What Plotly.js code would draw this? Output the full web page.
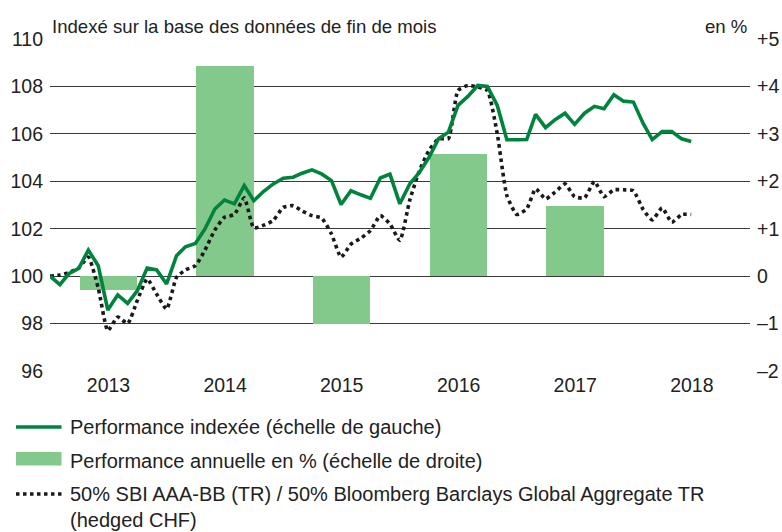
<!DOCTYPE html>
<html>
<head>
<meta charset="utf-8">
<script src="https://cdn.plot.ly/plotly-3.0.1.min.js"></script>
<style>
html,body{margin:0;padding:0;background:#fff;}
#chart{width:782px;height:532px;}
</style>
</head>
<body>
<div id="chart"></div>
<script>
// ---- Data ----
const months = [
 "2012-12",
 "2013-01","2013-02","2013-03","2013-04","2013-05","2013-06","2013-07","2013-08","2013-09","2013-10","2013-11","2013-12",
 "2014-01","2014-02","2014-03","2014-04","2014-05","2014-06","2014-07","2014-08","2014-09","2014-10","2014-11","2014-12",
 "2015-01","2015-02","2015-03","2015-04","2015-05","2015-06","2015-07","2015-08","2015-09","2015-10","2015-11","2015-12",
 "2016-01","2016-02","2016-03","2016-04","2016-05","2016-06","2016-07","2016-08","2016-09","2016-10","2016-11","2016-12",
 "2017-01","2017-02","2017-03","2017-04","2017-05","2017-06","2017-07","2017-08","2017-09","2017-10","2017-11","2017-12",
 "2018-01","2018-02","2018-03","2018-04","2018-05","2018-06"
];
const performanceIndexee = [
 100.0,
 99.64, 100.1, 100.33, 101.1, 100.44, 98.57, 99.21, 98.85, 99.38, 100.34, 100.26, 99.67,
 100.86, 101.24, 101.38, 101.99, 102.83, 103.21, 103.05, 103.82, 103.18, 103.58, 103.89, 104.13,
 104.17, 104.34, 104.48, 104.31, 104.03, 103.02, 103.6, 103.43, 103.28, 104.14, 104.3, 103.05,
 103.89, 104.35, 105.0, 105.79, 106.07, 107.2, 107.58, 108.04, 108.0, 107.2, 105.75, 105.75,
 105.76, 106.82, 106.26, 106.6, 106.87, 106.4, 106.87, 107.16, 107.06, 107.65, 107.38, 107.34,
 106.43, 105.76, 106.1, 106.1, 105.79, 105.68
];
const benchmark = [
 100.0,
 100.05, 100.15, 100.35, 100.8, 99.5, 97.7, 98.28, 98.0, 98.96, 99.88, 99.24, 98.61,
 99.95, 100.26, 100.44, 101.1, 101.95, 102.48, 102.6, 103.3, 102.03, 102.15, 102.35, 102.9,
 102.97, 102.75, 102.55, 102.45, 101.78, 100.8, 101.35, 101.6, 101.92, 102.55, 102.2, 101.5,
 103.2, 104.4, 105.3, 105.79, 105.8, 107.83, 108.04, 107.97, 107.83, 106.0, 103.4, 102.6,
 102.83, 103.68, 103.26, 103.54, 103.89, 103.35, 103.3, 103.99, 103.35, 103.64, 103.64, 103.6,
 102.8, 102.37, 102.88, 102.27, 102.6, 102.6
];
const years = [2013, 2014, 2015, 2016, 2017];
const performanceAnnuelle = [-0.3, 4.44, -1.0, 2.58, 1.47];

const xTickYears = [2013, 2014, 2015, 2016, 2017, 2018];
const leftTicks = [96, 98, 100, 102, 104, 106, 108, 110];
const rightTickVals = [-2, -1, 0, 1, 2, 3, 4, 5];
const rightTickText = ["\u20132", "\u20131", "0", "+1", "+2", "+3", "+4", "+5"];

const titleLeft = "Indexé sur la base des données de fin de mois";
const titleRight = "en %";
const legendLabels = [
 "Performance indexée (échelle de gauche)",
 "Performance annuelle en % (échelle de droite)",
 "50% SBI AAA-BB (TR) / 50% Bloomberg Barclays Global Aggregate TR",
 "(hedged CHF)"
];

// ---- Helpers ----
function monthEnd(s) {
  const [y, m] = s.split("-").map(Number);
  const d = new Date(Date.UTC(y, m, 0));
  return d.toISOString().slice(0, 10);
}
const xDates = months.map(monthEnd);
const midYear = y => y + "-07-02";

const GREEN = "#00843D";
const BARGREEN = "#84C98C";
const TXT = "#222222";
const FONT = "Liberation Sans, Arial, Helvetica, sans-serif";

// layout geometry
const W = 782, H = 532;
const M = {l: 50, r: 32, t: 39, b: 161};
const PW = W - M.l - M.r, PH = H - M.t - M.b;
const px2x = px => (px - M.l) / PW;
const px2y = py => (H - M.b - py) / PH;

const barWidthMs = 0.493 * 365.25 * 86400000;

const traces = [
  {
    type: "bar", x: years.map(midYear), y: performanceAnnuelle, yaxis: "y",
    width: years.map(() => barWidthMs),
    marker: {color: BARGREEN, line: {width: 0}},
    showlegend: false, hoverinfo: "skip"
  },
  {
    type: "scatter", mode: "lines", x: xDates, y: benchmark, yaxis: "y2",
    line: {color: "#1a1a1a", width: 3.6, dash: "dot", shape: "spline", smoothing: 0.5},
    showlegend: false, hoverinfo: "skip"
  },
  {
    type: "scatter", mode: "lines", x: xDates, y: performanceIndexee, yaxis: "y2",
    line: {color: GREEN, width: 3.6},
    showlegend: false, hoverinfo: "skip"
  }
];

// custom legend
const lx0 = px2x(16), lx1 = px2x(61.5), ltx = px2x(69);
const rowY = [427, 460.5, 494, 519.5];
const shapes = [
  {type: "line", xref: "paper", yref: "paper", x0: lx0, x1: lx1, y0: px2y(rowY[0]), y1: px2y(rowY[0]),
   line: {color: GREEN, width: 3.5}},
  {type: "rect", xref: "paper", yref: "paper", x0: lx0, x1: lx1, y0: px2y(452), y1: px2y(465.5),
   fillcolor: BARGREEN, line: {width: 0}},
  {type: "line", xref: "paper", yref: "paper", x0: lx0, x1: lx1, y0: px2y(rowY[2]), y1: px2y(rowY[2]),
   line: {color: "#1a1a1a", width: 3.5, dash: "dot"}}
];
const annotations = legendLabels.map((t, i) => ({
  xref: "paper", yref: "paper", x: ltx, y: px2y(rowY[i]), xanchor: "left", yanchor: "middle",
  text: t, showarrow: false, borderpad: 0, font: {family: FONT, size: 20, color: TXT}
}));
annotations.push({
  xref: "paper", yref: "paper", x: 0, y: 1, xanchor: "left", yanchor: "middle", yshift: 12.5,
  text: titleLeft, showarrow: false, font: {family: FONT, size: 18.6, color: TXT}
});
annotations.push({
  xref: "paper", yref: "paper", x: 1, y: 1, xanchor: "right", yanchor: "middle", yshift: 12.5, xshift: -1,
  text: titleRight, showarrow: false, font: {family: FONT, size: 18.6, color: TXT}
});

const tickFont = {family: FONT, size: 19.5, color: TXT};
const layout = {
  width: W, height: H,
  margin: M,
  paper_bgcolor: "#fff", plot_bgcolor: "#fff",
  font: {family: FONT, size: 18, color: TXT},
  showlegend: false,
  bargap: 0,
  xaxis: {
    type: "date",
    range: ["2012-12-31", "2018-12-31"],
    tickvals: xTickYears.map(midYear),
    ticktext: xTickYears.map(String),
    showgrid: false, zeroline: false, showline: false, ticks: "",
    tickfont: tickFont
  },
  // percent scale (right) carries the bars and the grid
  yaxis: {
    range: [-2, 5], side: "right",
    tickvals: rightTickVals, ticktext: rightTickText,
    showgrid: true, gridcolor: "#3a3a3a", gridwidth: 1,
    zeroline: false, showline: false, ticks: "", ticklabelstandoff: 6,
    tickfont: tickFont
  },
  // index scale (left) carries the lines
  yaxis2: {
    range: [96, 110], side: "left", overlaying: "y",
    tickvals: leftTicks, ticktext: leftTicks.map(String),
    showgrid: false, zeroline: false, showline: false, ticks: "", ticklabelstandoff: 6,
    tickfont: tickFont
  },
  shapes: shapes,
  annotations: annotations
};

Plotly.newPlot("chart", traces, layout, {staticPlot: true, displayModeBar: false});
</script>
</body>
</html>
